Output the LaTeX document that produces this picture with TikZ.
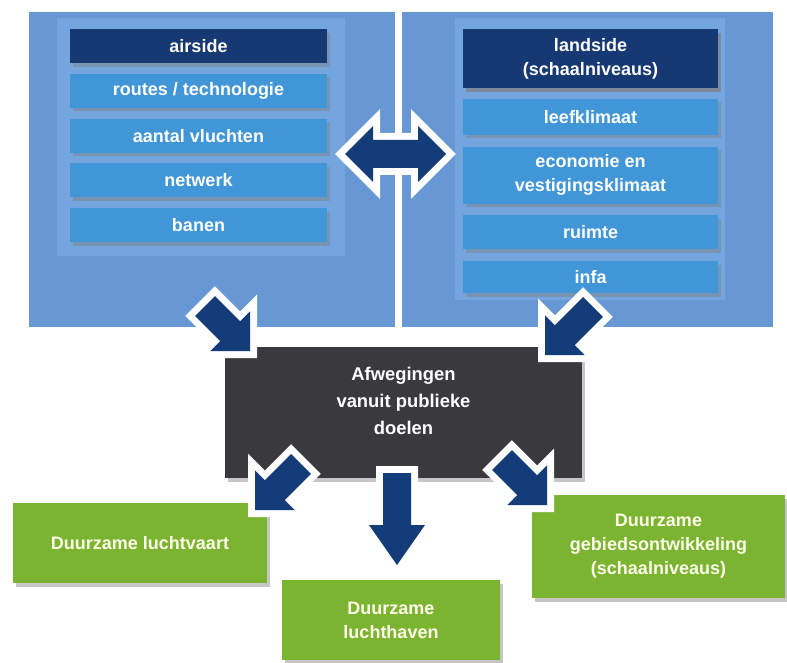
\documentclass[tikz,border=0pt]{standalone}
\usepackage{fontspec}
\newfontfamily\diagfont{Liberation Sans}
\usetikzlibrary{positioning,calc,shadows}

\definecolor{panelblue}{RGB}{104,152,212}
\definecolor{frameblue}{RGB}{117,165,222}
\definecolor{itemblue}{RGB}{64,150,214}
\definecolor{headnavy}{RGB}{22,56,115}
\definecolor{arrownavy}{RGB}{20,60,120}
\definecolor{goalgray}{RGB}{58,58,62}
\definecolor{resultgreen}{RGB}{122,180,48}

\def\shaftw{7pt}
\def\headw{14pt}

% block arrow from tail to tip, optional head length
\newcommand{\blockarrow}[3][14pt]{%
  \path[arrowfill] let \p1=($(#3)-(#2)$), \n1={atan2(\y1,\x1)} in
    ($(#2)+(\n1+90:\shaftw)$) --
    ($(#3)+(\n1+180:#1)+(\n1+90:\shaftw)$) --
    ($(#3)+(\n1+180:#1)+(\n1+90:\headw)$) --
    (#3) --
    ($(#3)+(\n1+180:#1)+(\n1-90:\headw)$) --
    ($(#3)+(\n1+180:#1)+(\n1-90:\shaftw)$) --
    ($(#2)+(\n1-90:\shaftw)$) -- cycle;}

% block arrow with a head at both ends
\newcommand{\dblarrow}[2]{%
  \path[arrowfill] let \p1=($(#2)-(#1)$), \n1={atan2(\y1,\x1)} in
    (#1) --
    ($(#1)+(\n1:14pt)+(\n1+90:\headw)$) --
    ($(#1)+(\n1:14pt)+(\n1+90:\shaftw)$) --
    ($(#2)+(\n1+180:14pt)+(\n1+90:\shaftw)$) --
    ($(#2)+(\n1+180:14pt)+(\n1+90:\headw)$) --
    (#2) --
    ($(#2)+(\n1+180:14pt)+(\n1-90:\headw)$) --
    ($(#2)+(\n1+180:14pt)+(\n1-90:\shaftw)$) --
    ($(#1)+(\n1:14pt)+(\n1-90:\shaftw)$) --
    ($(#1)+(\n1:14pt)+(\n1-90:\headw)$) -- cycle;}

\begin{document}
\begin{tikzpicture}[x=0.5pt, y=-0.5pt,
    box/.style = {fill=itemblue, text=white, minimum width=128.5pt, minimum height=17pt,
        inner sep=1pt, align=center, font=\diagfont\bfseries\fontsize{9}{12}\selectfont,
        drop shadow={shadow xshift=1.5pt, shadow yshift=-1.8pt, opacity=0.45}},
    hdr/.style = {box, fill=headnavy},
    rbox/.style = {box, minimum width=127.5pt},
    goal/.style = {box, fill=goalgray, minimum width=178.5pt, minimum height=65.5pt,
        font=\diagfont\bfseries\fontsize{9.2}{13.5}\selectfont, text depth=12pt},
    result/.style = {box, fill=resultgreen, text=white!92!yellow, minimum height=40pt},
    arrowfill/.style = {fill=arrownavy, line join=miter,
        preaction={draw=white, line width=7pt, line join=miter}}]
    \useasboundingbox (0,0) rectangle (787,663);

    % panels
    \fill[panelblue] (29,12) rectangle (395,327);
    \fill[panelblue] (402,12) rectangle (773,327);
    \fill[frameblue] (57,18) rectangle (345,256);
    \fill[frameblue] (455,18) rectangle (725,300);

    % airside
    \node[hdr] (airside) at (198.5,46) {airside};
    \node[box] (routes) [below = 5pt of airside] {routes / technologie};
    \node[box] (vluchten) [below = 5pt of routes] {aantal vluchten};
    \node[box] (netwerk) [below = 5pt of vluchten] {netwerk};
    \node[box] (banen) [below = 5pt of netwerk] {banen};

    % landside
    \node[hdr, rbox, fill=headnavy, minimum height=29.5pt] (landside) at (590.5,58.5) {landside\\(schaalniveaus)};
    \node[rbox] (leef) [below = 5pt of landside, minimum height=18pt] {leefklimaat};
    \node[rbox] (economie) [below = 5.5pt of leef, minimum height=28.5pt] {economie en\\vestigingsklimaat};
    \node[rbox] (ruimte) [below = 5.5pt of economie] {ruimte};
    \node[rbox] (infa) [below = 5.5pt of ruimte, minimum height=16pt] {infa};

    % afweging and results
    \node[goal] (goal) at (403.5,412.5) {Afwegingen\\vanuit publieke\\doelen};
    \node[result, minimum width=127pt] (luchtvaart) at (140,543) {Duurzame luchtvaart};
    \node[result, minimum width=109pt] (luchthaven) at (391,620) {Duurzame\\luchthaven};
    \node[result, minimum width=126.5pt, minimum height=51.5pt] (gebied) at (658.5,546.5) {Duurzame\\gebiedsontwikkeling\\(schaalniveaus)};

    % arrows
    \coordinate (dbl-l) at (345,154);
    \coordinate (dbl-r) at (446,154);
    \coordinate (tl-tail) at (205,306);
    \coordinate (tl-tip) at (250,351);
    \coordinate (tr-tail) at (593,307);
    \coordinate (tr-tip) at (545,355);
    \coordinate (bl-tail) at (301,464);
    \coordinate (bl-tip) at (255,510);
    \coordinate (br-tail) at (502,460);
    \coordinate (br-tip) at (547,505);
    \coordinate (dn-tail) at (397,473);
    \coordinate (dn-tip) at (397,565);

    \dblarrow{dbl-l}{dbl-r}
    \blockarrow{tl-tail}{tl-tip}
    \blockarrow{tr-tail}{tr-tip}
    \blockarrow{bl-tail}{bl-tip}
    \blockarrow{br-tail}{br-tip}
    \blockarrow[20pt]{dn-tail}{dn-tip}
\end{tikzpicture}
\end{document}
